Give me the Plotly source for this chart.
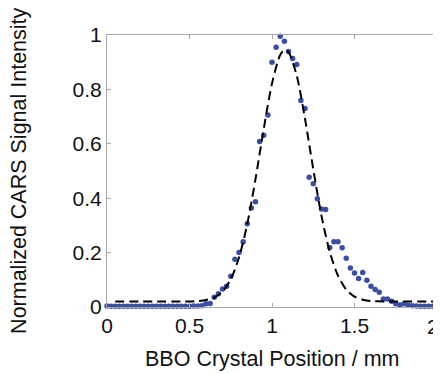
import plotly.graph_objects as go

# Measured data (BBO crystal position in mm, normalized CARS intensity)
position_mm = [0.0, 0.025, 0.05, 0.075, 0.1, 0.125, 0.15, 0.175, 0.2, 0.225,
               0.25, 0.275, 0.3, 0.325, 0.35, 0.375, 0.4, 0.425, 0.45, 0.475,
               0.5, 0.525, 0.55, 0.575, 0.6, 0.625, 0.65, 0.675, 0.7, 0.725,
               0.75, 0.775, 0.8, 0.825, 0.85, 0.875, 0.9, 0.925, 0.95, 0.975,
               1.0, 1.025, 1.05, 1.075, 1.1, 1.125, 1.15, 1.175, 1.2, 1.225,
               1.25, 1.275, 1.3, 1.325, 1.35, 1.375, 1.4, 1.425, 1.45, 1.475,
               1.5, 1.525, 1.55, 1.575, 1.6, 1.625, 1.65, 1.675, 1.7, 1.725,
               1.75, 1.775, 1.8, 1.825, 1.85, 1.875, 1.9, 1.925, 1.95, 1.975, 2.0]
intensity = [0.004, 0.003, 0.003, 0.003, 0.003, 0.003, 0.003, 0.003, 0.003, 0.003,
             0.003, 0.003, 0.003, 0.003, 0.003, 0.003, 0.003, 0.003, 0.003, 0.003,
             0.003, 0.004, 0.004, 0.005, 0.012, 0.013, 0.036, 0.049, 0.066, 0.076,
             0.113, 0.176, 0.200, 0.240, 0.306, 0.364, 0.387, 0.608, 0.631, 0.706,
             0.900, 0.955, 0.995, 0.977, 0.939, 0.914, 0.892, 0.759, 0.730, 0.477,
             0.453, 0.398, 0.360, 0.358, 0.219, 0.240, 0.240, 0.218, 0.179, 0.143,
             0.125, 0.105, 0.127, 0.098, 0.076, 0.064, 0.054, 0.029, 0.029, 0.021,
             0.012, 0.007, 0.012, 0.006, 0.005, 0.004, 0.003, 0.003, 0.003, 0.003, 0.003]

# Fitted curve (dashed)
fit_x = [0.05, 0.1, 0.15, 0.2, 0.25, 0.3, 0.35, 0.4, 0.45, 0.5,
         0.55, 0.6, 0.65, 0.7, 0.75, 0.8, 0.85, 0.9, 0.95, 1.0,
         1.05, 1.075, 1.1, 1.15, 1.2, 1.25, 1.3, 1.35, 1.4, 1.45,
         1.5, 1.55, 1.6, 1.65, 1.7, 1.75, 1.8, 1.85, 1.9, 1.95, 2.0]
fit_y = [0.02, 0.02, 0.02, 0.02, 0.02, 0.02, 0.02, 0.02, 0.02, 0.02,
         0.022, 0.026, 0.035, 0.057, 0.102, 0.182, 0.305, 0.470, 0.655, 0.822,
         0.927, 0.945, 0.937, 0.850, 0.692, 0.507, 0.335, 0.203, 0.115, 0.064,
         0.038, 0.027, 0.022, 0.021, 0.02, 0.02, 0.02, 0.02, 0.02, 0.02, 0.02]

x_tick_vals = [0, 0.5, 1, 1.5, 2]
x_tick_text = ["0", "0.5", "1", "1.5", "2"]
y_tick_vals = [0, 0.2, 0.4, 0.6, 0.8, 1]
y_tick_text = ["0", "0.2", "0.4", "0.6", "0.8", "1"]

x_title = "BBO Crystal Position / mm"
y_title = "Normalized CARS Signal Intensity"

FONT = "Liberation Sans, Arial, Helvetica, sans-serif"
FRAME = "#a8a8a8"
TXT = "#111111"

fig = go.Figure()
fig.add_trace(go.Scatter(
    x=position_mm, y=intensity, mode="markers",
    marker=dict(size=5.5, color="#3a4ea6", line=dict(width=0)),
    cliponaxis=False, showlegend=False,
))
fig.add_trace(go.Scatter(
    x=fit_x, y=fit_y, mode="lines",
    line=dict(color="black", width=2, dash="9px,5px", shape="spline", smoothing=0.8),
    showlegend=False,
))

axis_common = dict(
    showgrid=False, zeroline=False, showline=True, linecolor=FRAME, linewidth=1,
    mirror="ticks", ticks="inside", ticklen=4, tickcolor=FRAME, tickwidth=1,
    tickfont=dict(family=FONT, size=21, color=TXT), automargin=False,
)

# last x tick label sits at the right edge: draw it right-aligned so it stays whole
x_text_shown = x_tick_text[:-1] + [""]

fig.update_layout(
    width=433, height=366,
    margin=dict(l=99, r=4, t=27, b=67),
    paper_bgcolor="white", plot_bgcolor="white",
    font=dict(family=FONT, color=TXT),
    xaxis=dict(range=[0, 2], tickvals=x_tick_vals, ticktext=x_text_shown, **axis_common),
    yaxis=dict(range=[0, 1], tickvals=y_tick_vals, ticktext=y_tick_text, **axis_common),
    annotations=[
        dict(text=x_tick_text[-1], xref="x", yref="paper", x=x_tick_vals[-1], y=0,
             xanchor="right", yanchor="middle", xshift=4, yshift=-19, showarrow=False,
             font=dict(family=FONT, size=21, color=TXT)),
        dict(text=x_title, xref="paper", yref="paper", x=0.5, y=-0.19,
             xanchor="center", yanchor="middle", showarrow=False,
             font=dict(family=FONT, size=21.5, color=TXT)),
        dict(text=y_title, xref="paper", yref="paper", x=-0.267, y=0.5,
             xanchor="center", yanchor="middle", textangle=-90, showarrow=False,
             font=dict(family=FONT, size=21.5, color=TXT)),
    ],
)

fig.write_html("out.html")
